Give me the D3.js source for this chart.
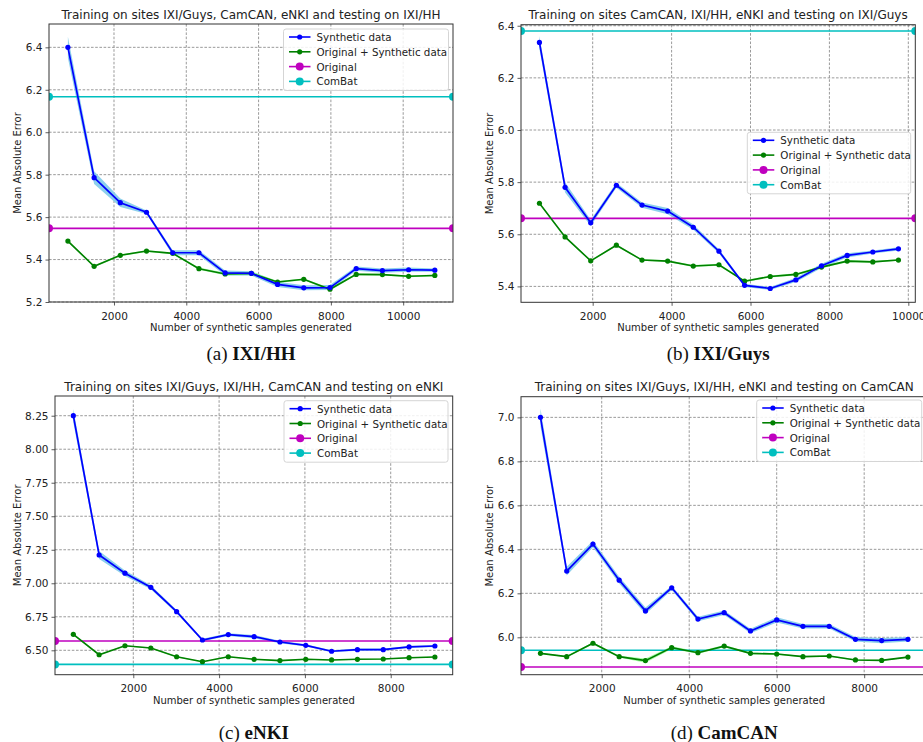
<!DOCTYPE html>
<html>
<head>
<meta charset="utf-8">
<script src="https://cdn.jsdelivr.net/npm/d3@7"></script>
<style>
  html, body { margin: 0; padding: 0; background: #fff; }
  svg { display: block; font-family: "DejaVu Sans", sans-serif; }
</style>
</head>
<body>
<svg id="chart" width="923" height="742"></svg>
<script>
// ---------------- DATA ----------------
const seriesNames = ["Synthetic data", "Original + Synthetic data", "Original", "ComBat"];

// (a) testing on IXI/HH
const hhTitle = "Training on sites IXI/Guys, CamCAN, eNKI and testing on IXI/HH";
const hhSamples = [725, 1450, 2175, 2900, 3625, 4350, 5075, 5800, 6525, 7250, 7975, 8700, 9425, 10150, 10875];
const hhSynthetic = [6.40, 5.786, 5.668, 5.623, 5.432, 5.432, 5.337, 5.335, 5.283, 5.267, 5.268, 5.357, 5.348, 5.352, 5.350];
const hhSyntheticStd = [0.05, 0.03, 0.02, 0.008, 0.012, 0.012, 0.012, 0.01, 0.012, 0.012, 0.012, 0.01, 0.01, 0.01, 0.008];
const hhCombined = [5.487, 5.368, 5.420, 5.440, 5.429, 5.357, 5.332, 5.335, 5.294, 5.307, 5.260, 5.330, 5.329, 5.321, 5.325];
const hhCombinedStd = [0.004, 0.004, 0.004, 0.004, 0.004, 0.005, 0.006, 0.008, 0.005, 0.004, 0.006, 0.004, 0.004, 0.004, 0.004];
const hhOriginal = 5.547;
const hhCombat = 6.167;
const hhYTicks = [5.2, 5.4, 5.6, 5.8, 6.0, 6.2, 6.4];
const hhXTicks = [2000, 4000, 6000, 8000, 10000];

// (b) testing on IXI/Guys
const guysTitle = "Training on sites CamCAN, IXI/HH, eNKI and testing on IXI/Guys";
const guysSamples = [650, 1300, 1950, 2600, 3250, 3900, 4550, 5200, 5850, 6500, 7150, 7800, 8450, 9100, 9750];
const guysSynthetic = [6.336, 5.780, 5.644, 5.788, 5.712, 5.689, 5.627, 5.535, 5.404, 5.392, 5.425, 5.479, 5.519, 5.532, 5.544];
const guysSyntheticStd = [0.025, 0.02, 0.012, 0.01, 0.01, 0.012, 0.01, 0.008, 0.006, 0.006, 0.008, 0.008, 0.008, 0.006, 0.006];
const guysCombined = [5.719, 5.590, 5.498, 5.558, 5.501, 5.497, 5.478, 5.483, 5.420, 5.438, 5.446, 5.474, 5.497, 5.494, 5.501];
const guysCombinedStd = [0.003, 0.003, 0.003, 0.003, 0.003, 0.003, 0.004, 0.004, 0.004, 0.004, 0.004, 0.004, 0.004, 0.003, 0.003];
const guysOriginal = 5.661;
const guysCombat = 6.380;
const guysYTicks = [5.4, 5.6, 5.8, 6.0, 6.2, 6.4];
const guysXTicks = [2000, 4000, 6000, 8000, 10000];

// (c) testing on eNKI
const enkiTitle = "Training on sites IXI/Guys, IXI/HH, CamCAN and testing on eNKI";
const enkiSamples = [602, 1204, 1806, 2408, 3010, 3612, 4214, 4816, 5418, 6020, 6622, 7224, 7826, 8428, 9030];
const enkiSynthetic = [8.25, 7.211, 7.075, 6.970, 6.788, 6.577, 6.617, 6.602, 6.562, 6.537, 6.493, 6.505, 6.505, 6.525, 6.532];
const enkiSyntheticStd = [0.05, 0.03, 0.02, 0.015, 0.012, 0.01, 0.01, 0.012, 0.01, 0.008, 0.008, 0.008, 0.008, 0.008, 0.008];
const enkiCombined = [6.619, 6.467, 6.534, 6.517, 6.452, 6.415, 6.452, 6.433, 6.423, 6.433, 6.428, 6.433, 6.435, 6.445, 6.450];
const enkiCombinedStd = [0.004, 0.004, 0.004, 0.004, 0.004, 0.004, 0.004, 0.004, 0.004, 0.004, 0.004, 0.004, 0.004, 0.004, 0.004];
const enkiOriginal = 6.569;
const enkiCombat = 6.395;
const enkiYTicks = [6.50, 6.75, 7.00, 7.25, 7.50, 7.75, 8.00, 8.25];
const enkiXTicks = [2000, 4000, 6000, 8000];

// (d) testing on CamCAN
const camTitle = "Training on sites IXI/Guys, IXI/HH, eNKI and testing on CamCAN";
const camSamples = [600, 1200, 1800, 2400, 3000, 3600, 4200, 4800, 5400, 6000, 6600, 7200, 7800, 8400, 9000];
const camSynthetic = [7.0, 6.301, 6.424, 6.260, 6.120, 6.225, 6.083, 6.112, 6.029, 6.079, 6.050, 6.050, 5.991, 5.985, 5.991];
const camSyntheticStd = [0.04, 0.02, 0.015, 0.015, 0.015, 0.01, 0.01, 0.01, 0.01, 0.012, 0.01, 0.01, 0.01, 0.012, 0.01];
const camCombined = [5.927, 5.912, 5.973, 5.912, 5.894, 5.953, 5.930, 5.960, 5.927, 5.924, 5.912, 5.915, 5.897, 5.895, 5.910];
const camCombinedStd = [0.003, 0.003, 0.005, 0.004, 0.01, 0.006, 0.005, 0.005, 0.004, 0.003, 0.003, 0.003, 0.003, 0.003, 0.003];
const camOriginal = 5.865;
const camCombat = 5.941;
const camYTicks = [6.0, 6.2, 6.4, 6.6, 6.8, 7.0];
const camXTicks = [2000, 4000, 6000, 8000];

const captionLetters = ["(a)", "(b)", "(c)", "(d)"];
const captionNames = ["IXI/HH", "IXI/Guys", "eNKI", "CamCAN"];

// ---------------- STYLE / LAYOUT ----------------
const colors = { syn: "#0000ff", comb: "#008000", orig: "#bf00bf", combat: "#00bfbf", synBand: "#87ceeb", combBand: "#7fff7f" };

const panels = [
  { title: hhTitle, x: hhSamples, syn: hhSynthetic, synStd: hhSyntheticStd, comb: hhCombined, combStd: hhCombinedStd,
    orig: hhOriginal, combat: hhCombat, yTicks: hhYTicks, xTicks: hhXTicks, yFmt: ".1f",
    box: { l: 49, r: 453, t: 24, b: 302 }, xDom: [202, 11378], yDom: [5.2, 6.51],
    legend: { l: 283.5, t: 29, w: 165 }, yLabelX: 17, cap: 0 },
  { title: guysTitle, x: guysSamples, syn: guysSynthetic, synStd: guysSyntheticStd, comb: guysCombined, combStd: guysCombinedStd,
    orig: guysOriginal, combat: guysCombat, yTicks: guysYTicks, xTicks: guysXTicks, yFmt: ".1f",
    box: { l: 521, r: 915.3, t: 24.7, b: 302.3 }, xDom: [183, 10177], yDom: [5.339, 6.404],
    legend: { l: 747.3, t: 132.3, w: 163.4 }, yLabelX: 489.5, cap: 1 },
  { title: enkiTitle, x: enkiSamples, syn: enkiSynthetic, synStd: enkiSyntheticStd, comb: enkiCombined, combStd: enkiCombinedStd,
    orig: enkiOriginal, combat: enkiCombat, yTicks: enkiYTicks, xTicks: enkiXTicks, yFmt: ".2f",
    box: { l: 55, r: 452.7, t: 396, b: 674.7 }, xDom: [175, 9445], yDom: [6.318, 8.397],
    legend: { l: 284, t: 400.7, w: 164 }, yLabelX: 17, cap: 2 },
  { title: camTitle, x: camSamples, syn: camSynthetic, synStd: camSyntheticStd, comb: camCombined, combStd: camCombinedStd,
    orig: camOriginal, combat: camCombat, yTicks: camYTicks, xTicks: camXTicks, yFmt: ".1f",
    box: { l: 521, r: 927.4, t: 396.7, b: 674.7 }, xDom: [155, 9445], yDom: [5.83, 7.094],
    legend: { l: 756.7, t: 400, w: 165 }, yLabelX: 489.5, cap: 3 }
];

const svg = d3.select("#chart");
const defs = svg.append("defs");

panels.forEach((p, i) => {
  const x = d3.scaleLinear().domain(p.xDom).range([p.box.l, p.box.r]);
  const y = d3.scaleLinear().domain(p.yDom).range([p.box.b, p.box.t]);
  const g = svg.append("g");
  const clipId = "clip" + i;
  defs.append("clipPath").attr("id", clipId).append("rect")
    .attr("x", p.box.l).attr("y", p.box.t).attr("width", p.box.r - p.box.l).attr("height", p.box.b - p.box.t);

  // grid
  const grid = g.append("g");
  p.xTicks.forEach(v => grid.append("line").attr("x1", x(v)).attr("x2", x(v)).attr("y1", p.box.t).attr("y2", p.box.b));
  p.yTicks.forEach(v => grid.append("line").attr("x1", p.box.l).attr("x2", p.box.r).attr("y1", y(v)).attr("y2", y(v)));
  grid.selectAll("line").attr("stroke", "#808080").attr("stroke-width", 0.8).attr("stroke-dasharray", "2.6,1.6");

  const plot = g.append("g").attr("clip-path", `url(#${clipId})`);
  const idx = d3.range(p.x.length);

  // bands
  const area = (vals, std) => d3.area().x(k => x(p.x[k])).y0(k => y(vals[k] - std[k])).y1(k => y(vals[k] + std[k]))(idx);
  plot.append("path").attr("d", area(p.syn, p.synStd)).attr("fill", colors.synBand).attr("opacity", 0.95);
  plot.append("path").attr("d", area(p.comb, p.combStd)).attr("fill", colors.combBand).attr("opacity", 0.7);

  // horizontal reference lines
  const hline = (val, col) => {
    plot.append("line").attr("x1", x(p.xDom[0])).attr("x2", x(p.xDom[1])).attr("y1", y(val)).attr("y2", y(val))
      .attr("stroke", col).attr("stroke-width", 1.6);
    [p.xDom[0], p.xDom[1]].forEach(v => plot.append("circle").attr("cx", x(v)).attr("cy", y(val)).attr("r", 4).attr("fill", col));
  };
  hline(p.orig, colors.orig);
  hline(p.combat, colors.combat);

  // series lines
  const line = vals => d3.line().x(k => x(p.x[k])).y(k => y(vals[k]))(idx);
  plot.append("path").attr("d", line(p.comb)).attr("fill", "none").attr("stroke", colors.comb).attr("stroke-width", 1.6);
  plot.selectAll(null).data(idx).enter().append("circle").attr("cx", k => x(p.x[k])).attr("cy", k => y(p.comb[k])).attr("r", 2.6).attr("fill", colors.comb);
  plot.append("path").attr("d", line(p.syn)).attr("fill", "none").attr("stroke", colors.syn).attr("stroke-width", 1.7);
  plot.selectAll(null).data(idx).enter().append("circle").attr("cx", k => x(p.x[k])).attr("cy", k => y(p.syn[k])).attr("r", 2.6).attr("fill", colors.syn);

  // axes
  const xAxis = g.append("g").attr("transform", `translate(0,${p.box.b})`)
    .call(d3.axisBottom(x).tickValues(p.xTicks).tickFormat(d3.format("d")).tickSize(3.5).tickSizeOuter(0));
  const yAxis = g.append("g").attr("transform", `translate(${p.box.l},0)`)
    .call(d3.axisLeft(y).tickValues(p.yTicks).tickFormat(d3.format(p.yFmt)).tickSize(3.5).tickSizeOuter(0));
  [xAxis, yAxis].forEach(a => {
    a.select(".domain").remove();
    a.selectAll(".tick line").attr("stroke", "#333").attr("stroke-width", 0.8);
    a.selectAll(".tick text").attr("fill", "#222").style("font-size", "10.5px").style("font-family", "'DejaVu Sans', sans-serif");
  });
  xAxis.selectAll(".tick text").attr("dy", "1.05em");

  // frame
  g.append("rect").attr("x", p.box.l).attr("y", p.box.t).attr("width", p.box.r - p.box.l).attr("height", p.box.b - p.box.t)
    .attr("fill", "none").attr("stroke", "#333").attr("stroke-width", 1);

  // title & labels
  const cx = (p.box.l + p.box.r) / 2;
  g.append("text").attr("x", cx).attr("y", p.box.t - 5.5).attr("text-anchor", "middle").style("font-size", "12px").attr("fill", "#222").text(p.title);
  g.append("text").attr("x", cx).attr("y", p.box.b + 29).attr("text-anchor", "middle").style("font-size", "10px").attr("fill", "#222")
    .text("Number of synthetic samples generated");
  g.append("text").attr("transform", `translate(${p.yLabelX},${(p.box.t + p.box.b) / 2}) rotate(-90)`)
    .attr("text-anchor", "middle").attr("dominant-baseline", "central").style("font-size", "10px").attr("fill", "#222").text("Mean Absolute Error");

  // legend
  const L = p.legend;
  const lg = g.append("g");
  lg.append("rect").attr("x", L.l).attr("y", L.t).attr("width", L.w).attr("height", 61.5).attr("rx", 2.5)
    .attr("fill", "#fff").attr("fill-opacity", 0.85).attr("stroke", "#d5d5d5").attr("stroke-width", 1);
  const lcol = [colors.syn, colors.comb, colors.orig, colors.combat];
  const lr = [2.6, 2.6, 4, 4];
  seriesNames.forEach((name, k) => {
    const yy = L.t + 8 + k * 14.8;
    lg.append("line").attr("x1", L.l + 5.5).attr("x2", L.l + 27).attr("y1", yy).attr("y2", yy).attr("stroke", lcol[k]).attr("stroke-width", 1.6);
    lg.append("circle").attr("cx", L.l + 16.2).attr("cy", yy).attr("r", lr[k]).attr("fill", lcol[k]);
    lg.append("text").attr("x", L.l + 33).attr("y", yy).attr("dominant-baseline", "central").style("font-size", "10.3px").attr("fill", "#222").text(name);
  });

  // caption
  const capY = i < 2 ? 359.5 : 738.5;
  const cap = svg.append("text").attr("x", cx).attr("y", capY).attr("text-anchor", "middle")
    .style("font-family", "'Liberation Serif', 'Times New Roman', serif").style("font-size", "19px").attr("fill", "#111");
  cap.append("tspan").text(captionLetters[p.cap] + " ");
  cap.append("tspan").attr("font-weight", "bold").text(captionNames[p.cap]);
});
</script>
</body>
</html>
